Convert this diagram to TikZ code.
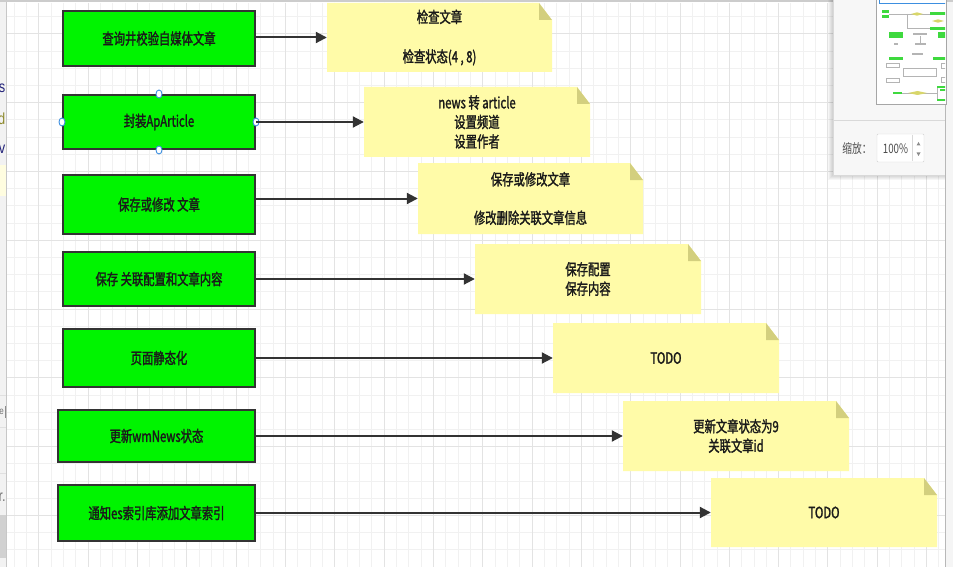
\documentclass[tikz,border=0pt]{standalone}
\usepackage{fontspec}
\newfontfamily\cjk{Noto Sans CJK SC}[FakeStretch=0.73,FakeBold=1.6]
\newfontfamily\cjkui{Noto Sans CJK SC}[FakeStretch=0.75]
\newfontfamily\uisans{Liberation Sans}[FakeStretch=0.8]
\usetikzlibrary{arrows.meta,calc,shapes.geometric}
\definecolor{gridminor}{HTML}{F1F1F1}
\definecolor{gridmajor}{HTML}{E3E3E3}
\definecolor{boxgreen}{HTML}{00F400}
\definecolor{boxline}{HTML}{333333}
\definecolor{txt}{HTML}{1A1A1A}
\definecolor{notefill}{HTML}{FFFBA8}
\definecolor{foldfill}{HTML}{D3CF7E}
\definecolor{handleblue}{HTML}{3D8FE0}
\definecolor{panelbg}{HTML}{F7F7F7}
\definecolor{mmgreen}{HTML}{3ED93E}
\definecolor{mmyellow}{HTML}{D8D66A}
\definecolor{mmgray}{HTML}{B4B4B4}
\definecolor{uinavy}{HTML}{23237A}
\definecolor{uiolive}{HTML}{8E8A2E}
\newcommand\boxfont{\cjk\fontsize{15.5}{19.5}\selectfont}
\newcommand\uifont{\cjkui\fontsize{13}{15}\selectfont}
\begin{document}
\begin{tikzpicture}[x=1pt,y=-1pt,
  greenbox/.style={draw=boxline, line width=2pt, fill=boxgreen, inner sep=0pt,
    text=txt, font=\boxfont, align=center},
  notebox/.style={inner sep=0pt, minimum width=226pt, minimum height=70pt,
    align=center, text=txt, font=\boxfont,
    path picture={
      \coordinate (pSW) at (path picture bounding box.south west);
      \coordinate (pNE) at (path picture bounding box.north east);
      \fill[notefill] (pSW) -- (pSW -| pNE) -- ($(pNE)+(0pt,-17pt)$)
        -- ($(pNE)+(-13pt,0pt)$) -- (pSW |- pNE) -- cycle;
      \fill[foldfill] ($(pNE)+(-13pt,0pt)$) -- ($(pNE)+(-13pt,-17pt)$)
        -- ($(pNE)+(0pt,-17pt)$) -- cycle;
    }},
  flow/.style={draw=boxline, line width=2pt,
    -{Triangle[length=11pt,width=11pt]}},
  handle/.style={ellipse, draw=handleblue, line width=0.9pt, fill=white,
    minimum width=6pt, minimum height=8pt, inner sep=0pt},
  uitext/.style={inner sep=0pt, font=\uisans\fontsize{16}{18}\selectfont}
]
\useasboundingbox (0,0) rectangle (953,567);
\fill[white] (0,0) rectangle (953,567);

% ---- grid ----
\foreach \i in {1,...,76}{
  \pgfmathsetmacro\xx{1.87+12.33*\i}
  \draw[gridminor, line width=1pt] (\xx,3) -- (\xx,567);
}
\foreach \j in {0,...,31}{
  \pgfmathsetmacro\yy{16.7+17.2*\j}
  \draw[gridminor, line width=1pt] (6,\yy) -- (945,\yy);
}
\foreach \i in {3,7,...,75}{
  \pgfmathsetmacro\xx{1.87+12.33*\i}
  \draw[gridmajor, line width=1pt] (\xx,3) -- (\xx,567);
}
\foreach \j in {1,5,...,29}{
  \pgfmathsetmacro\yy{16.7+17.2*\j}
  \draw[gridmajor, line width=1pt] (6,\yy) -- (945,\yy);
}

% ---- green process boxes ----
\node[greenbox, minimum width=192pt, minimum height=55pt] (b1) at (159,38.5) {查询井校验自媒体文章};
\node[greenbox, minimum width=192pt, minimum height=54pt] (b2) at (159,122) {封装ApArticle};
\node[greenbox, minimum width=192pt, minimum height=59pt] (b3) at (159,204.5) {保存或修改 文章};
\node[greenbox, minimum width=192pt, minimum height=54pt] (b4) at (159,279) {保存 关联配置和文章内容};
\node[greenbox, minimum width=192pt, minimum height=58pt] (b5) at (159,358) {页面静态化};
\node[greenbox, minimum width=197pt, minimum height=52pt] (b6) at (156.5,436) {更新wmNews状态};
\node[greenbox, minimum width=197pt, minimum height=56pt] (b7) at (156.5,513) {通知es索引库添加文章索引};

% selection handles on b2
\node[handle] (h2n) at (b2.north) {};
\node[handle] (h2s) at (b2.south) {};
\node[handle] (h2w) at (b2.west) {};
\node[handle] (h2e) at (b2.east) {};

% ---- notes ----
\node[notebox, minimum width=225pt, minimum height=69pt] (n1) at (439.5,37.5) {检查文章\\[20pt]检查状态(4 , 8)};
\node[notebox] (n2) at (477,122) {news 转 article\\设置频道\\设置作者};
\node[notebox, minimum width=225pt, minimum height=71pt] (n3) at (530.5,198.5) {保存或修改文章\\[19pt]修改删除关联文章信息};
\node[notebox] (n4) at (588,279) {保存配置\\保存内容};
\node[notebox] (n5) at (666,358) {TODO};
\node[notebox] (n6) at (736,436) {更新文章状态为9\\关联文章id};
\node[notebox, minimum height=69pt] (n7) at (824,512.5) {TODO};

% ---- connectors ----
\foreach \k in {1,...,7}{
  \draw[flow] (b\k.east |- n\k.west) -- (n\k.west);
}

% ---- right and top window edges ----
\fill[black!4] (945.5,0) rectangle (953,567);
\draw[black!28, line width=1pt] (945.5,0) -- (945.5,567);
\fill[black!20] (0,0) rectangle (953,2.5);

% ---- outline panel ----
\foreach \s in {1,...,5}{
  \fill[black, opacity=0.035] (833-\s,0) rectangle (945,175+\s);
}
\fill[panelbg] (833,0) rectangle (945,175);
\draw[black!15] (833,0) -- (833,175) -- (945,175);
\draw[black!35, fill=white] (876,-1) rectangle (946,104);
% minimap content
\begin{scope}
\clip (876.5,0) rectangle (945,103.5);
\draw[handleblue, line width=1pt] (879,-2) rectangle (948,4);
\draw[mmgray, line width=0.6pt] (889,14) -- (930,14);
\draw[mmgray, line width=0.6pt] (907,14) -- (907,28) -- (930,28);
\fill[mmgreen] (882,10) rectangle (889,13);
\fill[mmgreen] (882,15) rectangle (889,18);
\fill[mmyellow] (911,14) -- (917,12.3) -- (923,14) -- (917,15.7) -- cycle;
\fill[mmgreen] (930,12) rectangle (946,15.5);
\fill[mmgreen] (930,27) rectangle (946,30);
\fill[mmyellow] (932,21) -- (938,19.3) -- (944,21) -- (938,22.7) -- cycle;
\fill[mmgreen] (889,32) rectangle (903,38);
\fill[mmgreen] (938,32) rectangle (946,38);
\fill[mmgray] (913,33.5) rectangle (927,35.5);
\fill[mmgray] (915,43) rectangle (926,45);
\fill[mmgray] (894,43) rectangle (898,45);
\fill[mmgray] (912,53) rectangle (923,55);
\draw[mmgray, line width=0.5pt] (920,36) -- (920,43);
\fill[mmgreen] (889,57) rectangle (903,60);
\fill[mmgreen] (933,57) rectangle (946,60);
\draw[mmgray, line width=0.6pt, fill=white] (886,63) rectangle (899,67);
\draw[mmgray, line width=0.6pt, fill=white] (903,68) rectangle (936,76);
\draw[mmgray, line width=0.6pt, fill=white] (886,78) rectangle (899,82);
\draw[mmgray, line width=0.6pt, fill=white] (941,63) rectangle (948,68);
\draw[mmgray, line width=0.6pt, fill=white] (941,77) rectangle (948,82);
\draw[mmgray, line width=0.6pt] (902,93) -- (937,93);
\draw[mmgray, line width=0.6pt] (937,87) -- (937,100);
\fill[mmgreen] (893,92) rectangle (902,94.5);
\fill[mmyellow] (908,93) -- (917.5,91) -- (927,93) -- (917.5,95) -- cycle;
\fill[mmgreen] (937,86) rectangle (946,88);
\fill[mmgreen] (940,89.5) rectangle (946,91.5);
\fill[mmgreen] (937,99) rectangle (946,101);
\end{scope}
\draw[black!15] (833,120) -- (945,120);
\node[inner sep=0pt, text=black!70, font=\uifont] (zoomlbl) at (857,149) {缩放：};
\draw[black!18, fill=white, rounded corners=1pt] (877,134) rectangle (924,162);
\draw[black!15] (912.5,135) -- (912.5,161);
\node[inner sep=0pt, text=black!70, font=\uifont] (zoomval) at (895.5,149) {100\%};
\fill[black!45] (916.5,145.5) -- (918.5,142) -- (920.5,145.5) -- cycle;
\fill[black!45] (916.5,152.5) -- (918.5,156) -- (920.5,152.5) -- cycle;

% ---- left window strip ----
\fill[black!5] (0,2.5) rectangle (6,567);
\fill[yellow!12] (0,165) rectangle (6,196);
\draw[black!12] (0,395) -- (6,395);
\draw[black!12] (0,427) -- (6,427);
\draw[black!12] (0,473) -- (6,473);
\fill[black!18] (0,515) rectangle (5.5,558);
\begin{scope}
\clip (0,2.5) rectangle (6,567);
\node[uitext, anchor=east, text=uinavy] (ls) at (5.5,88) {s};
\node[uitext, anchor=east, text=uiolive] (ld) at (5.5,119) {d};
\node[uitext, anchor=east, text=uinavy] (lv) at (5.5,149) {v};
\node[inner sep=0pt, anchor=east, text=black!55, font=\uisans\fontsize{10}{12}\selectfont] (le) at (4,412) {e};
\node[uitext, anchor=east, text=black!55] (lr) at (6,497) {r.};
\end{scope}
\draw[black!45, line width=0.7pt] (5,406) -- (5,418);
\draw[black!22, line width=1pt] (6,2.5) -- (6,567);
\end{tikzpicture}
\end{document}
